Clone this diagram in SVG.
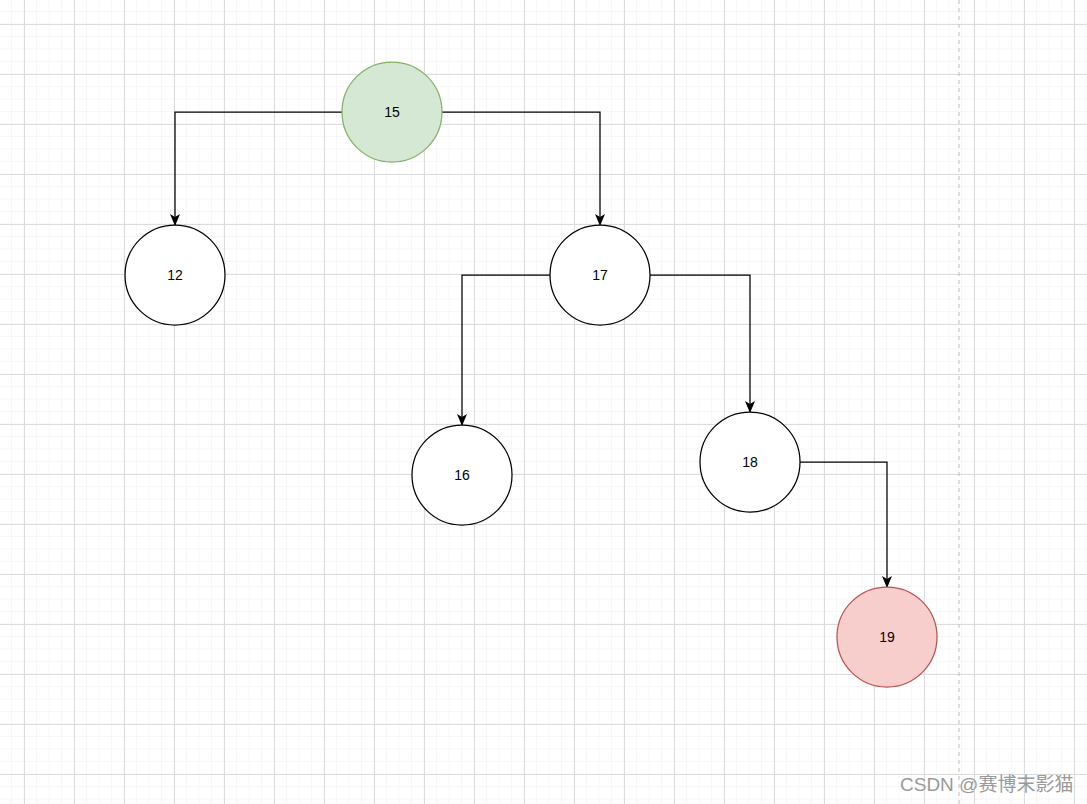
<svg xmlns="http://www.w3.org/2000/svg" width="1087" height="804" viewBox="0 0 1087 804">
<defs>
<pattern id="minor" x="-0.5" y="-0.5" width="12.5" height="12.5" patternUnits="userSpaceOnUse">
<path d="M12.5 0V12.5M0 12.5H12.5" fill="none" stroke="#f0f0f0" stroke-width="1"/>
</pattern>
<pattern id="major" x="24" y="24" width="50" height="50" patternUnits="userSpaceOnUse">
<path d="M0.5 0V50M0 0.5H50" fill="none" stroke="#dcdcdc" stroke-width="1"/>
</pattern>
<marker id="arr" viewBox="0 0 12 10" refX="11" refY="5" markerWidth="12" markerHeight="10" markerUnits="userSpaceOnUse" orient="auto">
<path d="M0 0L12 5L0 10L3 5Z" fill="#000"/>
</marker>
<style>
.n{fill:#fff;stroke:#000;stroke-width:1.25}
.g{fill:#d5e8d4;stroke:#82b366;stroke-width:1.25}
.r{fill:#f8cecc;stroke:#b85450;stroke-width:1.25}
.t{font-family:"Liberation Sans",Arial,sans-serif;font-size:14px;fill:#000;text-anchor:middle;dominant-baseline:central}
.e{fill:none;stroke:#000;stroke-width:1.25;marker-end:url(#arr)}
</style>
</defs>
<rect width="1087" height="804" fill="#fff"/>
<rect width="1087" height="804" fill="url(#minor)"/>
<rect width="1087" height="804" fill="url(#major)"/>
<line x1="959" y1="0" x2="959" y2="804" stroke="#bdbdbd" stroke-width="1" stroke-dasharray="4 4"/>
<g id="connectors">
<path class="e" d="M342 112H175V225"/>
<path class="e" d="M442 112H600V225"/>
<path class="e" d="M550 275H462V425"/>
<path class="e" d="M650 275H750V412"/>
<path class="e" d="M800 462H887V587"/>
</g>
<g id="n15"><circle class="g" cx="392" cy="112" r="50"/><text class="t" x="392" y="112">15</text></g>
<g id="n12"><circle class="n" cx="175" cy="275" r="50"/><text class="t" x="175" y="275">12</text></g>
<g id="n17"><circle class="n" cx="600" cy="275" r="50"/><text class="t" x="600" y="275">17</text></g>
<g id="n16"><circle class="n" cx="462" cy="475" r="50"/><text class="t" x="462" y="475">16</text></g>
<g id="n18"><circle class="n" cx="750" cy="462" r="50"/><text class="t" x="750" y="462">18</text></g>
<g id="n19"><circle class="r" cx="887" cy="637" r="50"/><text class="t" x="887" y="637">19</text></g>
<text x="900" y="791" font-family="'Liberation Sans','Noto Sans CJK SC',sans-serif" font-size="19" fill="#9a9a9a">CSDN @赛博末影猫</text>
</svg>
